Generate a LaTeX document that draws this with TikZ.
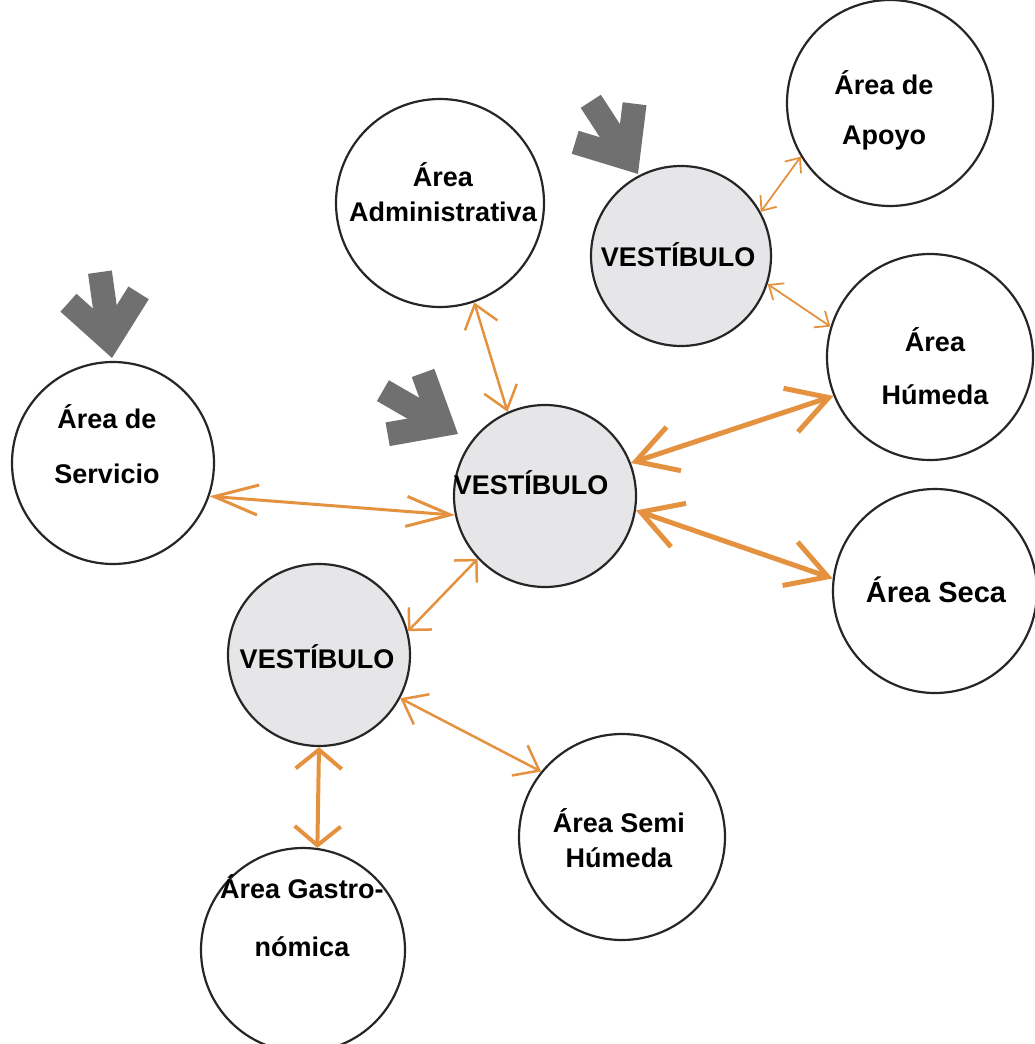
\documentclass[tikz,border=0pt]{standalone}
\usepackage{fontspec}
\setmainfont{Liberation Sans}
\usetikzlibrary{arrows.meta}

\definecolor{linkorange}{RGB}{228,146,64}
\definecolor{hallgray}{RGB}{230,230,232}
\definecolor{pointergray}{RGB}{112,112,112}

\tikzset{
  area/.style={circle, draw=black!85, line width=2.2pt, fill=white, inner sep=0pt, minimum size=#1},
  hall/.style={area=#1, fill=hallgray},
  lbl/.style={font=\bfseries\fontsize{27}{#1}\selectfont, align=center, inner sep=0pt},
  lbl/.default=30,
  linksmall/.style={draw=linkorange, line width=1.8pt, <->, >={Straight Barb[length=12pt, width=20pt]}},
  linkthin/.style={draw=linkorange, line width=2.5pt, <->, >={Straight Barb[length=22pt, width=34pt]}},
  linkwide/.style={draw=linkorange, line width=3pt, <->, >={Straight Barb[length=44pt, width=30pt]}},
  linkbold/.style={draw=linkorange, line width=5pt, <->, >={Straight Barb[length=40pt, width=46pt]}},
  linkdiag/.style={draw=linkorange, line width=2.5pt, <->, >={Straight Barb[length=16pt, width=32pt]}},
  linkdown/.style={draw=linkorange, line width=4pt, <->, >={Straight Barb[length=19pt, width=46pt]}},
  pointer/.style={draw=pointergray, line width=24pt, line join=miter, miter limit=10, line cap=butt},
}

% thick entrance pointer: outer tip at #1, pointing at angle #2
\newcommand\entrancemark[2]{%
  \begin{scope}[shift={#1}, rotate=#2]
    \draw[pointer] (-60.8,35.4) -- (-18.7,0) -- (-60.8,-35.4);
    \draw[pointer] (-18.7,0) -- (-86.7,0);
  \end{scope}}

\begin{document}
\begin{tikzpicture}[x=1pt, y=-1pt]
  \useasboundingbox (0,0) rectangle (1034,1044);

  % zones
  \node[area=206pt] (apoyo)  at (890,103) {};
  \node[area=208pt] (admin)  at (440,203) {};
  \node[hall=180pt] (vt)     at (681,256) {};
  \node[area=206pt] (hum)    at (930,357) {};
  \node[area=202pt] (serv)   at (113,463) {};
  \node[hall=182pt] (vc)     at (545,496) {};
  \node[area=204pt] (seca)   at (935,591) {};
  \node[hall=182pt] (vl)     at (319,655) {};
  \node[area=206pt] (semi)   at (622,837) {};
  \node[area=204pt] (gastro) at (303,950) {};

  % labels
  \node[lbl=50] (t-apoyo)  at (884,110) {Área de\\Apoyo};
  \node[lbl=35] (t-admin)  at (443,192) {Área\\Administrativa};
  \node[lbl]    (t-vt)     at (678,255) {VESTÍBULO};
  \node[lbl=53] (t-hum)    at (935,366) {Área\\Húmeda};
  \node[lbl=55] (t-serv)   at (107,444) {Área de\\Servicio};
  \node[lbl]    (t-vc)     at (531,483) {VESTÍBULO};
  \node[lbl, font=\bfseries\fontsize{29}{30}\selectfont] (t-seca) at (936,590) {Área Seca};
  \node[lbl]    (t-vl)     at (317,657) {VESTÍBULO};
  \node[lbl=35] (t-semi)   at (619,838) {Área Semi\\Húmeda};
  \node[lbl=58] (t-gastro) at (302,916) {Área Gastro-\\nómica};

  % connections
  \draw[linksmall] (vt.29)    -- (apoyo.211);
  \draw[linksmall] (vt.342)   -- (hum.163);
  \draw[linkthin]  (admin.289) -- (vc.114.5);
  \draw[linkbold]  (hum.202)  -- (vc.21);
  \draw[linkwide]  (serv.341.6) -- (vc.192.8);
  \draw[linkbold]  (vc.351)   -- (seca.173);
  \draw[linkdiag]  (vc.223)   -- (vl.15.7);
  \draw[linkthin]  (vl.332)   -- (semi.141.6);
  \draw[linkdown]  (vl.270)   -- (gastro.82);

  % entrances
  \entrancemark{(112,358)}{-82}
  \entrancemark{(458,434)}{-30}
  \entrancemark{(638,174)}{-57}
\end{tikzpicture}
\end{document}
